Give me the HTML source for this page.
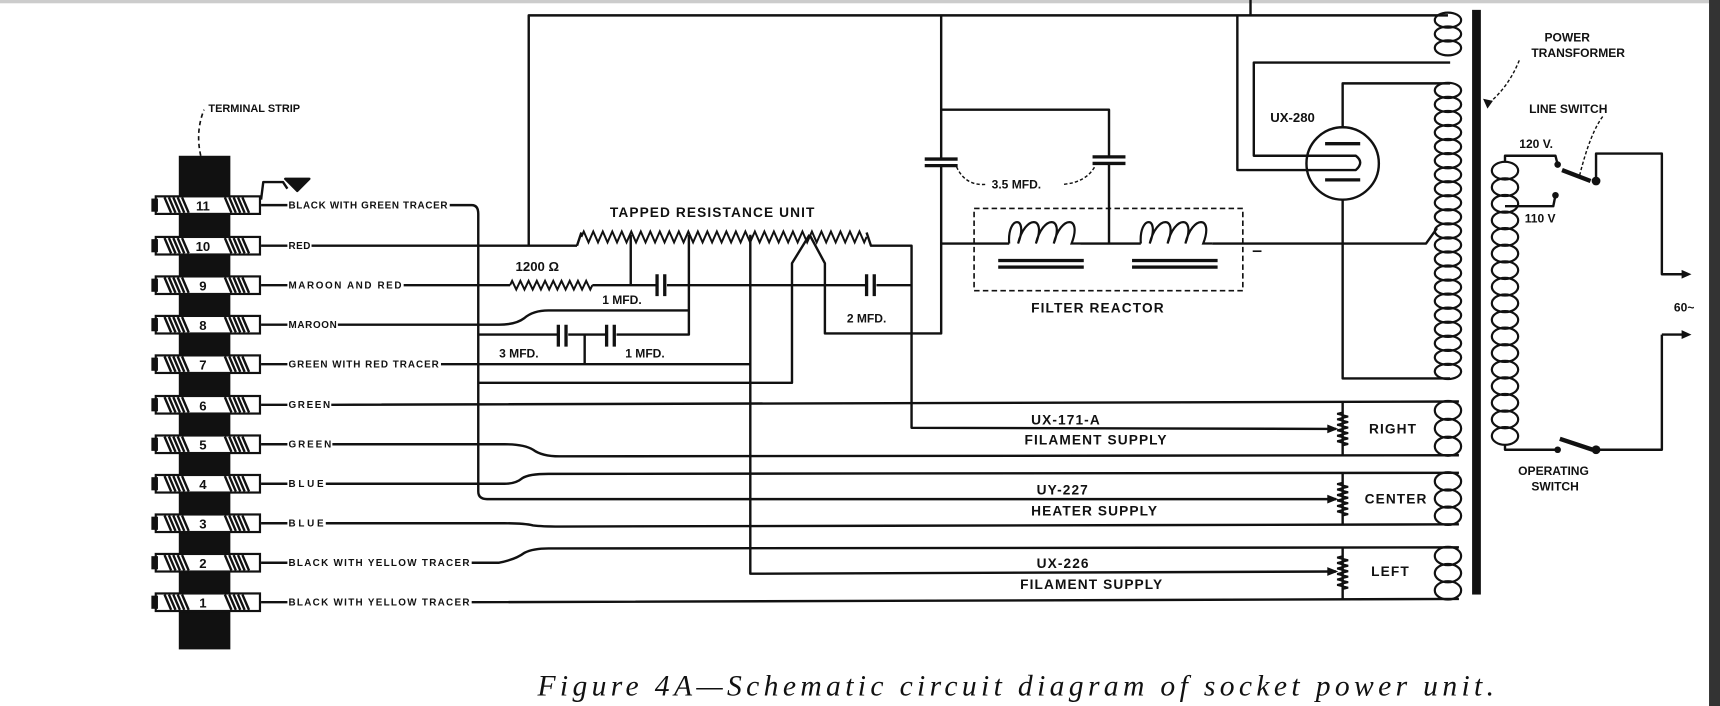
<!DOCTYPE html>
<html><head><meta charset="utf-8"><style>
html,body{margin:0;padding:0;background:#fff;width:1720px;height:706px;overflow:hidden}
svg{display:block}
.s{font-family:"Liberation Sans",sans-serif;font-weight:bold;font-size:9px;fill:#111}
.m{font-family:"Liberation Sans",sans-serif;font-weight:bold;font-size:12.5px;fill:#111;letter-spacing:1px}
.n{font-family:"Liberation Sans",sans-serif;font-weight:bold;font-size:12px;fill:#111}
</style></head><body>
<svg id="sv" width="1720" height="706" viewBox="0 0 1568 643.6" preserveAspectRatio="none" xmlns="http://www.w3.org/2000/svg">
<rect x="0" y="0" width="1568" height="3" fill="#ccc"/>
<rect x="1558" y="0" width="10" height="644" fill="#333"/>
<g id="w" fill="none" stroke="#111" stroke-width="2.2" stroke-linejoin="round">
<rect x="163" y="142" width="47" height="450" fill="#111" stroke="none"/>
<path d="M183 142 Q178 120 186 100" stroke-dasharray="4 3" stroke-width="1.5"/>
<path d="M238 182 L240 166 L258 166 L262 172"/>
<path d="M260 163 L282 163 L271 174 Z" fill="#111"/>
<path d="M482 224 L482 14 L1320 14"/>
<path d="M1140 14 L1140 0"/>
<path d="M238 187 L262 187 M410 187 L430 187 Q436 187 436 195 L436 448 Q436 455 444 455 L1218 455"/>
<path d="M238 224 L262 224 M284 224 L526 224"/>
<path d="M238 260 L262 260 M368 260 L465 260"/>
<path d="M540 260 L600 260 M605 260 L790 260 M797 260 L831 260"/>
<path d="M238 296 L262 296 M308 296 L455 296 Q470 296 478 290 Q486 283 500 283 L628 283"/>
<path d="M238 332 L262 332 M402 332 L684 332"/>
<path d="M238 369 L262 369 M302 369 L1330 366"/>
<path d="M238 405 L262 405 M303 405 L460 405 Q478 405 486 410 Q494 416 510 416 L1330 415"/>
<path d="M238 441 L262 441 M297 441 L460 441 Q470 441 476 436 Q482 432 500 432 L1330 431"/>
<path d="M238 477 L262 477 M297 477 L460 477 Q478 477 486 479 Q494 480 510 480 L1330 478"/>
<path d="M238 513 L262 513 M430 513 L455 513 Q470 510 478 504 Q486 500 500 500 L1330 499"/>
<path d="M238 549 L262 549 M430 549 L1330 546"/>
<path d="M526 224 L530 212"/>
<path d="M790 212 L794 224 L831 224 L831 390 L1218 391"/>
<path d="M575 214 L575 260"/>
<path d="M628 214 L628 305 L436 305"/>
<path d="M533 305 L533 332"/>
<path d="M684 214 L684 523 L1218 521"/>
<path d="M738 214 L722 240 L722 349 L436 349"/>
<path d="M738 214 L752 240 L752 304 L858 304 L858 14"/>
<rect x="508" y="298" width="10" height="16" fill="#fff" stroke="none"/>
<rect x="552" y="298" width="10" height="16" fill="#fff" stroke="none"/>
<rect x="598" y="252" width="10" height="16" fill="#fff" stroke="none"/>
<rect x="789" y="252" width="10" height="16" fill="#fff" stroke="none"/>
<rect x="845" y="144" width="26" height="8" fill="#fff" stroke="none"/>
<rect x="998" y="142" width="26" height="8" fill="#fff" stroke="none"/>
<g stroke-width="3">
<path d="M599 250 L599 270 M606 250 L606 270"/>
<path d="M509 296 L509 316 M516 296 L516 316"/>
<path d="M553 296 L553 316 M560 296 L560 316"/>
<path d="M790 250 L790 270 M797 250 L797 270"/>
<path d="M843 145 L873 145 M843 151 L873 151"/>
<path d="M996 143 L1026 143 M996 149 L1026 149"/>
</g>
<path d="M858 100 L1011 100 L1011 143 M1011 149 L1011 222"/>
<path d="M858 222 L920 222 M985 222 L1040 222 M1105 222 L1300 222 L1310 208"/>
<rect x="888" y="190" width="245" height="75" stroke-dasharray="5 3" stroke-width="1.5"/>
<rect x="910" y="236" width="78" height="3" fill="#111" stroke="none"/><rect x="910" y="242" width="78" height="3" fill="#111" stroke="none"/>
<rect x="1032" y="236" width="78" height="3" fill="#111" stroke="none"/><rect x="1032" y="242" width="78" height="3" fill="#111" stroke="none"/>
<path d="M1142 229 L1150 229" stroke-width="1.5"/>
<path d="M872 152 Q880 170 900 168 M970 168 Q990 166 998 152" stroke-dasharray="3 2" stroke-width="1.3"/>
<ellipse cx="1224" cy="149" rx="33" ry="33"/>
<path d="M1208 131 L1240 131 M1208 164 L1240 164" stroke-width="3"/>
<path d="M1128 14 L1128 155 L1236 155 Q1244 148 1236 142 L1143 142 L1143 57 L1322 57"/>
<path d="M1224 116 L1224 76 L1322 76"/>
<path d="M1224 182 L1224 345 L1322 345"/>
<rect x="1342" y="9" width="8" height="533" fill="#111" stroke="none"/>
<path d="M1385 55 Q1375 80 1356 95" stroke-dasharray="3 2" stroke-width="1.3"/>
<path d="M1224 366 L1224 415 M1224 431 L1224 478 M1224 499 L1224 546"/>
<path d="M1372 148 L1372 142 L1418 142 L1420 150"/>
<path d="M1372 188 L1416 188 L1418 178"/>
<path d="M1424 155 L1450 165" stroke-width="4"/>
<path d="M1455 165 L1455 140 L1515 140 L1515 250 L1535 250"/>
<path d="M1515 305 L1515 410 L1455 410"/>
<path d="M1422 400 L1452 410" stroke-width="4"/>
<path d="M1418 410 L1372 410 L1372 405"/>
<path d="M1440 160 Q1450 120 1462 105" stroke-dasharray="3 2" stroke-width="1.3"/>
<path d="M1515 305 L1535 305"/>
</g>
<g fill="#111">
<circle cx="1420" cy="150" r="3"/><circle cx="1455" cy="165" r="4"/><circle cx="1418" cy="178" r="3"/>
<circle cx="1420" cy="410" r="3"/><circle cx="1455" cy="410" r="4"/>
<path d="M1533 246 L1542 250 L1533 254Z M1533 301 L1542 305 L1533 309Z"/>
<path d="M1210 387 L1220 391 L1210 395Z M1210 451 L1220 455 L1210 459Z M1210 517 L1220 521 L1210 525Z"/>
<path d="M1352 90 L1356 99 L1361 92Z"/>
</g>
<g id="lugs"></g>
<g id="coils" fill="none" stroke="#111" stroke-width="2"></g>
<text class="s" x="190" y="102" style="font-size:10px">TERMINAL STRIP</text>
<text class="s" x="263" y="190" textLength="145">BLACK WITH GREEN TRACER</text>
<text class="s" x="263" y="227" textLength="20">RED</text>
<text class="s" x="263" y="263" textLength="103">MAROON AND RED</text>
<text class="s" x="263" y="299" textLength="44">MAROON</text>
<text class="s" x="263" y="335" textLength="137">GREEN WITH RED TRACER</text>
<text class="s" x="263" y="372" textLength="38">GREEN</text>
<text class="s" x="263" y="408" textLength="39">GREEN</text>
<text class="s" x="263" y="444" textLength="32">BLUE</text>
<text class="s" x="263" y="480" textLength="32">BLUE</text>
<text class="s" x="263" y="516" textLength="165">BLACK WITH YELLOW TRACER</text>
<text class="s" x="263" y="552" textLength="165">BLACK WITH YELLOW TRACER</text>
<text class="m" x="556" y="198">TAPPED RESISTANCE UNIT</text>
<text class="n" x="470" y="247">1200 Ω</text>
<text class="n" x="549" y="277" style="font-size:11px">1 MFD.</text>
<text class="n" x="772" y="294" style="font-size:11px">2 MFD.</text>
<text class="n" x="455" y="326" style="font-size:11px">3 MFD.</text>
<text class="n" x="570" y="326" style="font-size:11px">1 MFD.</text>
<text class="n" x="904" y="172" style="font-size:11px">3.5 MFD.</text>
<text class="m" x="940" y="285">FILTER REACTOR</text>
<text class="n" x="1158" y="111">UX-280</text>
<text class="m" x="940" y="387">UX-171-A</text>
<text class="m" x="934" y="405">FILAMENT SUPPLY</text>
<text class="m" x="945" y="451">UY-227</text>
<text class="m" x="940" y="470">HEATER SUPPLY</text>
<text class="m" x="945" y="518">UX-226</text>
<text class="m" x="930" y="537">FILAMENT SUPPLY</text>
<text class="m" x="1248" y="395">RIGHT</text>
<text class="m" x="1244" y="459">CENTER</text>
<text class="m" x="1250" y="525">LEFT</text>
<text class="n" x="1408" y="38" style="font-size:11px">POWER</text>
<text class="n" x="1396" y="52" style="font-size:11px">TRANSFORMER</text>
<text class="n" x="1394" y="103" style="font-size:11px">LINE SWITCH</text>
<text class="n" x="1385" y="135" style="font-size:11px">120 V.</text>
<text class="n" x="1390" y="203" style="font-size:11px">110 V</text>
<text class="n" x="1526" y="284" style="font-size:11px">60~</text>
<text class="n" x="1384" y="433" style="font-size:11px">OPERATING</text>
<text class="n" x="1396" y="447" style="font-size:11px">SWITCH</text>
<text x="490" y="634" textLength="872" style="font-family:'Liberation Serif',serif;font-style:italic;font-size:27px;fill:#111">Figure 4A—Schematic circuit diagram of socket power unit.</text>
</svg>
<script>
var NS="http://www.w3.org/2000/svg";
function el(p,t,a){var e=document.createElementNS(NS,t);for(var k in a)e.setAttribute(k,a[k]);p.appendChild(e);return e;}
var L=document.getElementById("lugs");
var ys=[549,513,477,441,405,369,332,296,260,224,187];
ys.forEach(function(y,i){
 el(L,"rect",{x:142,y:y-8,width:95,height:16,fill:"#fff",stroke:"#111","stroke-width":2});
 el(L,"rect",{x:138,y:y-6,width:6,height:12,fill:"#111"});
 for(var k=0;k<5;k++){el(L,"line",{x1:150+k*4,y1:y-7,x2:156+k*4,y2:y+7,stroke:"#111","stroke-width":2.2});
  el(L,"line",{x1:205+k*4,y1:y-7,x2:211+k*4,y2:y+7,stroke:"#111","stroke-width":2.2});}
 var t=el(L,"text",{x:185,y:y+5,"text-anchor":"middle","class":"n"});t.textContent=String(i+1);
});
var C=document.getElementById("coils");
function vcoil(x,y0,y1,n){var h=(y1-y0)/n;for(var i=0;i<n;i++)el(C,"ellipse",{cx:x,cy:y0+h*(i+0.5),rx:12,ry:h/2+0.5});}
vcoil(1320,12,50,3);vcoil(1320,76,345,21);
vcoil(1320,366,415,3);vcoil(1320,431,478,3);vcoil(1320,499,546,3);
vcoil(1372,148,405,17);
function hcoil(x0,x1,y){var d="M"+x0+" "+y;var n=4,w=(x1-x0)/n;for(var i=0;i<n;i++){var a=x0+i*w;d+=" C"+(a-2)+" "+(y-26)+" "+(a+w+2)+" "+(y-26)+" "+(a+w*0.5)+" "+(y);}d+=" L"+x1+" "+y;el(C,"path",{d:d});}
hcoil(920,985,222);hcoil(1040,1105,222);
function zig(x0,x1,y,n,a){var d="M"+x0+" "+y,w=(x1-x0)/n;for(var i=0;i<n;i++)d+=" L"+(x0+w*(i+0.25))+" "+(y-a)+" L"+(x0+w*(i+0.75))+" "+(y+a);d+=" L"+x1+" "+y;el(C,"path",{d:d,"stroke-width":1.8});}
zig(530,790,216,30,5);zig(465,540,260,10,4);
function vzig(x,y0,y1,n){var d="M"+x+" "+y0,h=(y1-y0)/n;for(var i=0;i<n;i++)d+=" L"+(x-5)+" "+(y0+h*(i+0.25))+" L"+(x+5)+" "+(y0+h*(i+0.75));d+=" L"+x+" "+y1;el(C,"path",{d:d,"stroke-width":1.8});}
vzig(1224,376,406,6);vzig(1224,440,470,6);vzig(1224,507,537,6);
</script>
</body></html>
